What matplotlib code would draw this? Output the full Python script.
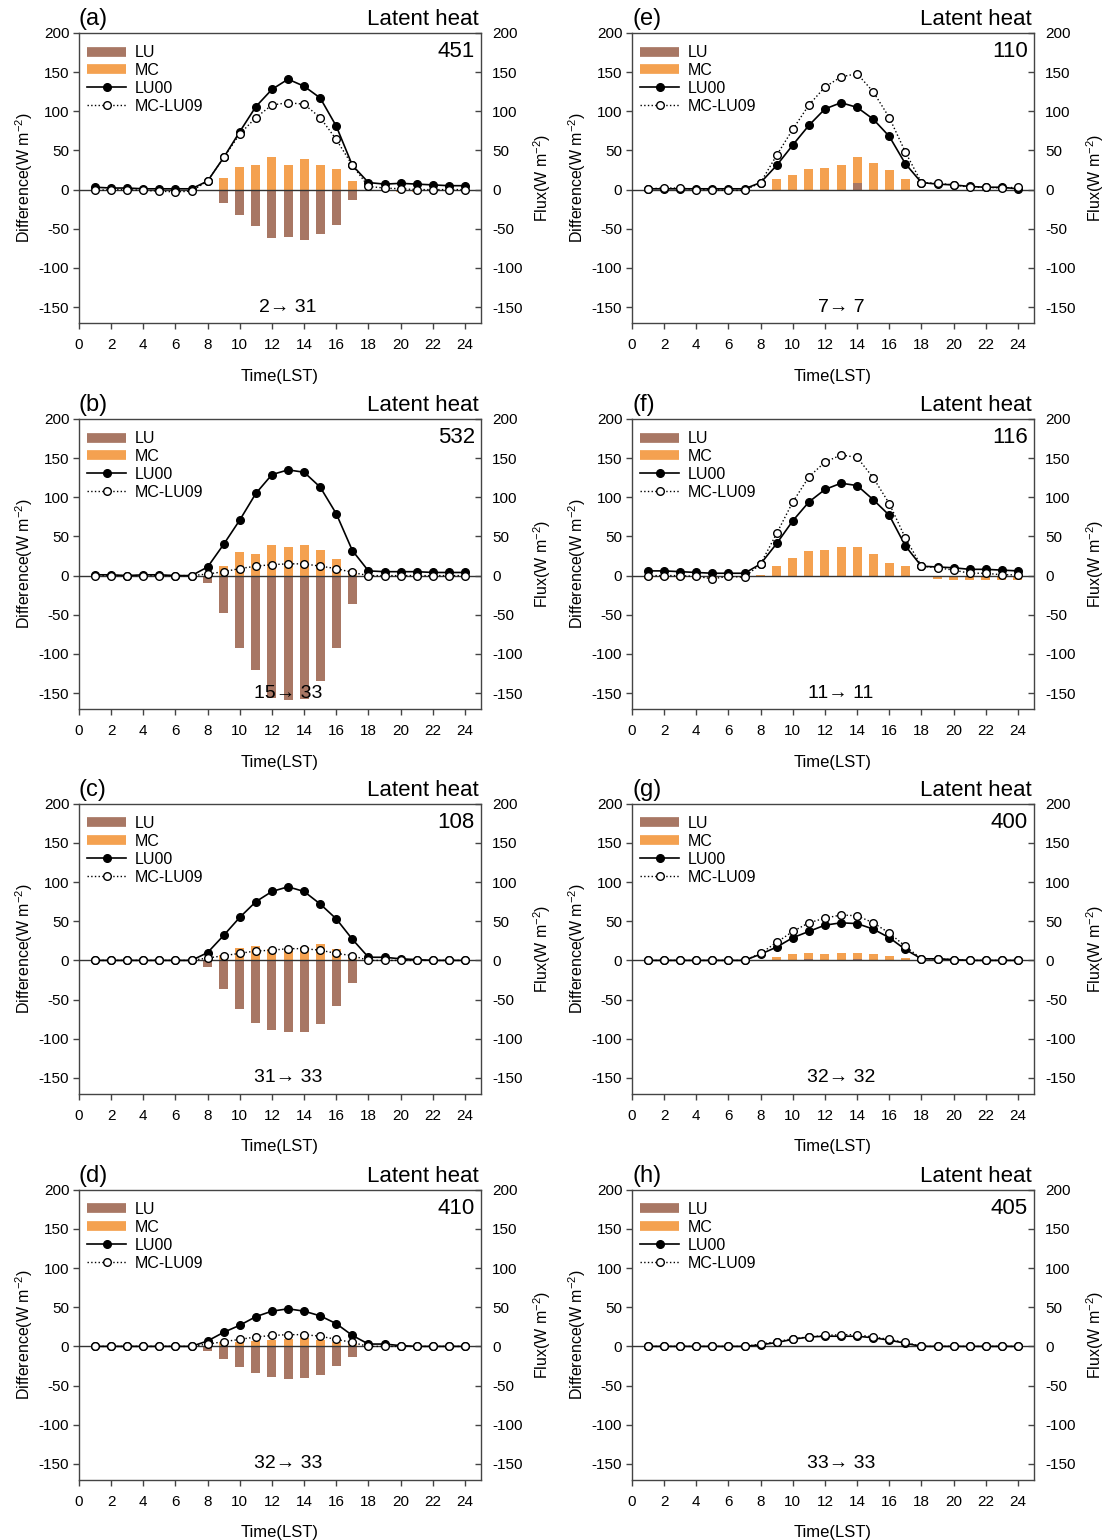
import matplotlib
matplotlib.use("Agg")
import matplotlib.pyplot as plt
from matplotlib.lines import Line2D
import numpy as np

plt.rcParams['font.family'] = ['Liberation Sans', 'DejaVu Sans']
plt.rcParams['mathtext.fontset'] = 'custom'
plt.rcParams['mathtext.rm'] = 'Liberation Sans'
plt.rcParams['axes.unicode_minus'] = False

hours = list(range(1, 25))

# ---- panel (a)
lu00_a = [3, 2, 2, 1, 1, 1, 1, 11, 41, 74, 106, 128, 141, 132, 117, 81, 31, 9, 7, 8, 7, 6, 5, 5]
mclu09_a = [-1, 0, 0, -1, -2, -3, -2, 11, 41, 71, 92, 108, 111, 109, 92, 64, 31, 4, 2, 1, 0, 0, 0, 0]
mc_a = [0, 0, 0, 0, 0, 0, 0, 0, 15, 29, 31, 41, 31, 39, 31, 26, 11, -1, -1, -3, -3, -2, -1, -1]
lu_a = [0, 0, 0, 0, 0, 0, 0, -1, -17, -32, -46, -62, -61, -64, -57, -45, -13, -1, 0, 0, 0, 0, 0, 0]

# ---- panel (b)
lu00_b = [1, 1, 0, 1, 1, 0, 0, 11, 40, 71, 105, 129, 135, 132, 113, 79, 32, 6, 5, 5, 5, 4, 4, 4]
mclu09_b = [0, 0, 0, 0, 0, 0, 0, 2, 5, 9, 12, 14, 15, 15, 12, 9, 4, 0, 0, 0, 0, 0, 0, 0]
mc_b = [0, 0, 0, 0, -2, 0, 0, 0, 12, 30, 28, 39, 37, 39, 33, 21, 7, -2, 0, 0, 0, -1, 0, 0]
lu_b = [0, 0, 0, 0, 0, 0, 0, -10, -48, -92, -121, -156, -159, -158, -134, -93, -36, -3, 0, 0, 0, 0, 0, 0]

# ---- panel (c)
lu00_c = [0, 0, 0, 0, 0, 0, 0, 10, 32, 55, 75, 88, 94, 88, 72, 53, 27, 4, 4, 2, 1, 0, 0, 0]
mclu09_c = [0, 0, 0, 0, 0, 0, 0, 3, 6, 9, 12, 13, 15, 15, 13, 9, 6, 0, 0, 0, 0, 0, 0, 0]
mc_c = [0, 0, 0, 0, 0, 0, 0, 0, 7, 16, 18, 14, 15, 17, 21, 14, 3, -2, 0, 0, 0, 0, 0, 0]
lu_c = [0, 0, 0, 0, 0, 0, 0, -9, -36, -62, -80, -89, -92, -92, -81, -58, -29, 0, 0, 0, 0, 0, 0, 0]

# ---- panel (d)
lu00_d = [0, 0, 0, 0, 0, 0, 0, 7, 18, 27, 38, 45, 48, 45, 39, 29, 14, 3, 3, 1, 0, 0, 0, 0]
mclu09_d = [0, 0, 0, 0, 0, 0, 0, 3, 6, 9, 12, 14, 15, 15, 13, 9, 5, 0, 0, 0, 0, 0, 0, 0]
mc_d = [0, 0, 0, 0, 0, 0, 0, 0, 5, 5, 7, 8, 9, 11, 8, 6, 3, 0, 0, 0, 0, 0, 0, 0]
lu_d = [0, 0, 0, 0, 0, 0, 0, -6, -16, -26, -34, -39, -42, -41, -36, -25, -13, 0, 0, 0, 0, 0, 0, 0]

# ---- panel (e)
lu00_e = [1, 1, 1, 1, 1, 1, 1, 9, 31, 57, 82, 103, 111, 105, 90, 68, 33, 9, 7, 6, 4, 3, 3, 1]
mclu09_e = [1, 2, 2, 0, 0, -1, -1, 9, 44, 77, 108, 131, 144, 148, 125, 92, 48, 9, 8, 6, 3, 3, 2, 3]
mc_e = [0, 0, 0, 0, 0, 0, 0, 0, 13, 19, 26, 28, 32, 41, 34, 25, 14, 0, -1, -2, 0, 0, 0, 0]
lu_e = [0, 0, 0, 0, 0, 0, 0, 0, 0, 0, 0, 0, 0, 8, 0, -2, 0, 0, 0, 0, 0, 0, 0, 0]

# ---- panel (f)
lu00_f = [6, 6, 5, 4, 3, 3, 3, 15, 41, 70, 94, 110, 118, 115, 97, 77, 38, 12, 11, 10, 8, 8, 7, 6]
mclu09_f = [0, 0, 0, -1, -4, -1, -2, 15, 54, 94, 126, 145, 154, 151, 125, 92, 48, 12, 10, 7, 3, 3, 1, 1]
mc_f = [-4, -4, -4, -4, -4, -3, -3, 1, 12, 23, 31, 33, 36, 37, 27, 16, 12, 0, -4, -5, -5, -5, -5, -5]
lu_f = [0] * 24

# ---- panel (g)
lu00_g = [0, 0, 0, 0, 0, 0, 0, 8, 17, 29, 37, 45, 48, 47, 40, 29, 14, 2, 2, 1, 0, 0, 0, 0]
mclu09_g = [0, 0, 0, 0, 0, 0, 0, 9, 23, 37, 48, 54, 58, 57, 48, 35, 18, 2, 2, 1, 0, 0, 0, 0]
mc_g = [0, 0, 0, 0, 0, 0, 0, 1, 4, 8, 10, 8, 9, 9, 8, 6, 3, 0, 0, 0, 0, 0, 0, 0]
lu_g = [0, 0, 0, 0, 0, 0, 0, 0, 0, 1, 2, 1, 1, 2, 0, 0, 0, 0, 0, 0, 0, 0, 0, 0]

# ---- panel (h)
lu00_h = [0, 0, 0, 0, 0, 0, 0, 2, 5, 9, 12, 13, 13, 13, 11, 8, 4, 0, 0, 0, 0, 0, 0, 0]
mclu09_h = [0, 0, 0, 0, 0, 0, 0, 3, 6, 10, 12, 14, 15, 15, 12, 9, 5, 0, 0, 0, 0, 0, 0, 0]
mc_h = [0, 0, 0, 0, 0, 0, 0, 0, 0, 1, 1, 1, 1, 1, 1, 1, 0, 0, 0, 0, 0, 0, 0, 0]
lu_h = [0] * 24

panel_labels = ['(a)', '(b)', '(c)', '(d)', '(e)', '(f)', '(g)', '(h)']
transitions = ['2\u2192 31', '15\u2192 33', '31\u2192 33', '32\u2192 33',
               '7\u2192 7', '11\u2192 11', '32\u2192 32', '33\u2192 33']
counts = ['451', '532', '108', '410', '110', '116', '400', '405']
yticks = [-150, -100, -50, 0, 50, 100, 150, 200]
xticks = list(range(0, 25, 2))

lu_series = [lu_a, lu_b, lu_c, lu_d, lu_e, lu_f, lu_g, lu_h]
mc_series = [mc_a, mc_b, mc_c, mc_d, mc_e, mc_f, mc_g, mc_h]
lu00_series = [lu00_a, lu00_b, lu00_c, lu00_d, lu00_e, lu00_f, lu00_g, lu00_h]
mclu09_series = [mclu09_a, mclu09_b, mclu09_c, mclu09_d, mclu09_e, mclu09_f, mclu09_g, mclu09_h]

BROWN = '#A87764'
ORANGE = '#F4A150'
SPINE = '#444444'

fig = plt.figure(figsize=(11.1, 15.4), dpi=100)
W, H = 1110, 1540
col_left = [79, 632]
ax_w = 402
row_bottom = [322.7, 708.7, 1093.5, 1479.5]
ax_h = 289.7

for i in range(8):
    col = i // 4
    row = i % 4
    rect = [col_left[col] / W, 1 - row_bottom[row] / H, ax_w / W, ax_h / H]
    ax = fig.add_axes(rect)
    ax.set_xlim(0, 25)
    ax.set_ylim(-170, 200)

    ax.bar(hours, mc_series[i], width=0.56, color=ORANGE, zorder=2)
    ax.bar(hours, lu_series[i], width=0.56, color=BROWN, zorder=2)
    ax.axhline(0, color='#333333', lw=1.0, zorder=3)
    ax.plot(hours, lu00_series[i], '-', color='black', lw=1.2, marker='o',
            markersize=5.5, markerfacecolor='black', markeredgecolor='black', zorder=4)
    ax.plot(hours, mclu09_series[i], ':', color='black', lw=1.0, marker='o',
            markersize=5.5, markerfacecolor='white', markeredgecolor='black',
            markeredgewidth=1.0, zorder=5)

    ax.set_xticks(xticks)
    ax.set_yticks(yticks)
    ax.tick_params(axis='both', direction='out', length=4, width=1, labelsize=11,
                   color=SPINE, pad=3)
    ax.tick_params(axis='x', pad=7)
    for s in ax.spines.values():
        s.set_color(SPINE)
        s.set_linewidth(1.0)
    ax.set_xlabel('Time(LST)', fontsize=12, labelpad=12)
    ax.set_ylabel('Difference(W m$^{-2}$)', fontsize=11.5, labelpad=3)

    ax2 = ax.twinx()
    ax2.set_ylim(-170, 200)
    ax2.set_yticks(yticks)
    ax2.tick_params(axis='y', direction='in', length=4, width=1, labelsize=11,
                    color=SPINE, pad=8)
    for s in ax2.spines.values():
        s.set_visible(False)
    ax2.set_ylabel('Flux(W m$^{-2}$)', fontsize=11.5, labelpad=6)

    ax.text(0.0, 1.01, panel_labels[i], transform=ax.transAxes, ha='left',
            va='bottom', fontsize=17)
    ax.text(0.995, 1.01, 'Latent heat', transform=ax.transAxes, ha='right',
            va='bottom', fontsize=16)
    ax.text(0.985, 0.935, counts[i], transform=ax.transAxes, ha='right',
            va='center', fontsize=16)
    ax.text(13.0, -150, transitions[i], ha='center', va='center', fontsize=14,
            zorder=10)

    handles = [
        Line2D([], [], color=BROWN, lw=7, solid_capstyle='butt'),
        Line2D([], [], color=ORANGE, lw=7, solid_capstyle='butt'),
        Line2D([], [], color='black', lw=1.2, marker='o', markersize=5.5,
               markerfacecolor='black'),
        Line2D([], [], color='black', lw=1.0, ls=':', marker='o', markersize=5.5,
               markerfacecolor='white', markeredgecolor='black'),
    ]
    ax.legend(handles, ['LU', 'MC', 'LU00', 'MC-LU09'], loc='upper left',
              bbox_to_anchor=(0.005, 0.98), frameon=False, fontsize=11.5,
              handlelength=2.4, handletextpad=0.55, labelspacing=0.18,
              borderaxespad=0.2, borderpad=0.2, numpoints=1)

fig.savefig('out.png', dpi=100, facecolor='white')
